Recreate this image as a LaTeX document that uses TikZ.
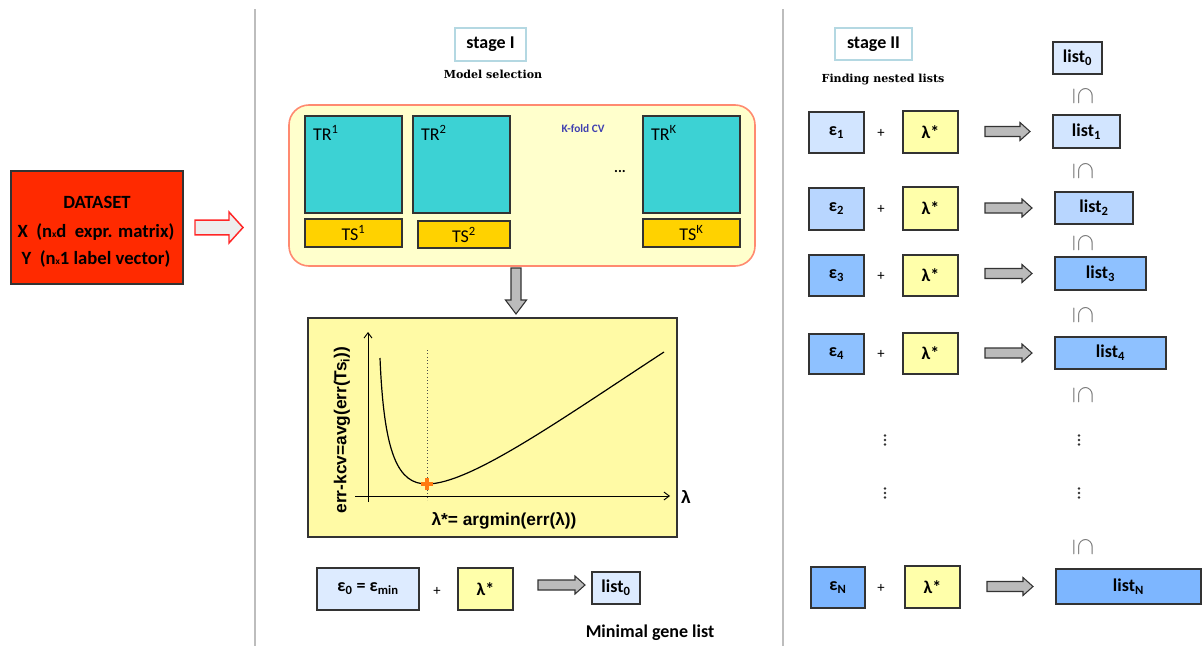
\documentclass[tikz,border=0pt]{standalone}
\usepackage{fontspec}
\newfontfamily\carlito{Carlito}
\newfontfamily\arialfont{Liberation Sans}
\newfontfamily\headserif{DejaVu Serif}
\usetikzlibrary{calc,arrows.meta}

\definecolor{boxline}{HTML}{333333}
\definecolor{datared}{HTML}{FF2A00}
\definecolor{cvfill}{HTML}{FFFFCC}
\definecolor{cvline}{HTML}{FF8A70}
\definecolor{trfill}{HTML}{3CD2D4}
\definecolor{tsfill}{HTML}{FFD200}
\definecolor{plotfill}{HTML}{FFFAA5}
\definecolor{lamfill}{HTML}{FFFFAA}
\definecolor{blueA}{HTML}{DDEBFF}
\definecolor{blueB}{HTML}{D2E5FF}
\definecolor{blueC}{HTML}{B8D6FF}
\definecolor{blueD}{HTML}{8EC1FF}
\definecolor{blueE}{HTML}{7DB6FF}
\definecolor{stageline}{HTML}{B4D8E2}
\definecolor{cvtext}{HTML}{4040B0}
\definecolor{divgray}{HTML}{BDBDBD}
\definecolor{arrgray}{HTML}{BBBBBB}
\definecolor{subgray}{HTML}{6E6E6E}
\definecolor{minorange}{HTML}{FF7A10}

% box given by its corners (x1,y1) (x2,y2) in pixel units
\newcommand\bx[7]{\node[#6, minimum width={(#4-(#2))*0.75pt}, minimum height={(#5-(#3))*0.75pt}] (#1) at ({(#2+#4)/2},{(#3+#5)/2}) {#7};}
% horizontal block arrow: style, start, end, half body, half head, head length
\newcommand\harrow[6]{\draw[#1] let \p1=#2, \p2=#3 in
  (\x1,\y2+#4) -- (\x2-#6,\y2+#4) -- (\x2-#6,\y2+#5) -- (\x2,\y2) --
  (\x2-#6,\y2-#5) -- (\x2-#6,\y2-#4) -- (\x1,\y2-#4) -- cycle;}
% vertical (downward) block arrow
\newcommand\varrow[6]{\draw[#1] let \p1=#2, \p2=#3 in
  (\x1-#4,\y1) -- (\x1-#4,\y2+#6) -- (\x1-#5,\y2+#6) -- (\x1,\y2) --
  (\x1+#5,\y2+#6) -- (\x1+#4,\y2+#6) -- (\x1+#4,\y1) -- cycle;}

\tikzset{
  base/.style={inner sep=0pt, outer sep=0pt},
  box/.style={base, draw=boxline, line width=0.9pt,
    font=\carlito\bfseries\fontsize{13.5}{15}\selectfont},
  epsbox/.style={box, fill=#1},
  lambox/.style={box, fill=lamfill},
  listbox/.style={box, fill=#1},
  trbox/.style={base, draw=boxline, line width=0.9pt, fill=trfill},
  tsbox/.style={base, draw=boxline, line width=0.9pt, fill=tsfill,
    font=\carlito\fontsize{13.5}{15}\selectfont},
  trlabel/.style={base, anchor=base west, font=\carlito\fontsize{13.5}{15}\selectfont},
  stagebox/.style={base, draw=stageline, line width=0.8pt,
    font=\carlito\bfseries\fontsize{13.5}{15}\selectfont},
  subtitle/.style={base, font=\headserif\bfseries\fontsize{8.3}{10}\selectfont},
  plus/.style={base, font=\carlito\fontsize{11}{12}\selectfont},
  subs/.style={base, rotate=-90, scale=1.3, text=subgray, font=\fontsize{14}{15}\selectfont},
  vdot/.style={fill=black!80, draw=none},
  garrow/.style={draw=boxline, line width=0.8pt, fill=arrgray},
  rarrow/.style={draw=red!85!white, line width=1.1pt, fill=black!7},
  divider/.style={draw=divgray, line width=1.2pt},
  axis/.style={draw=black, line width=0.7pt, -{Straight Barb[length=4pt,width=6pt]}},
  plotlabel/.style={base, font=\arialfont\bfseries\fontsize{13}{15}\selectfont},
  datatext/.style={base, font=\carlito\bfseries\fontsize{14}{16}\selectfont},
}

\begin{document}
\begin{tikzpicture}[x=0.75pt, y=-0.75pt]
\useasboundingbox (0,0) rectangle (1203,646);

% ---------- dataset ----------
\bx{dataset}{11}{171}{183}{284}{base, draw=boxline, line width=0.9pt, fill=datared}{}
\node[datatext] (dtitle) at (97,202) {DATASET};
\node[datatext] (dx) at (96,232) {X\ \ (n{\fontsize{7}{8}\selectfont x}d\ \ expr. matrix)};
\node[datatext] (dy) at (96,259) {Y\ \ (n{\fontsize{7}{8}\selectfont x}1 label vector)};
\harrow{rarrow}{($(dataset.east)+(12,0)$)}{($(dataset.east)+(60,0)$)}{5.6pt}{11.6pt}{10.5pt}

% ---------- dividers ----------
\coordinate (d1top) at (255,9);  \coordinate (d1bot) at (255,646);
\coordinate (d2top) at (783,9);  \coordinate (d2bot) at (783,646);
\draw[divider] (d1top) -- (d1bot);
\draw[divider] (d2top) -- (d2bot);

% ---------- stage I ----------
\bx{stage1}{455}{28}{526}{61}{stagebox}{stage I}
\node[subtitle] (modsel) at (493,74) {Model selection};

\bx{cvbox}{289}{105}{755}{266}{base, draw=cvline, line width=1.2pt, fill=cvfill, rounded corners=15pt}{}
\bx{tr1}{305}{116}{402}{213}{trbox}{}
\bx{tr2}{413}{116}{510}{213}{trbox}{}
\bx{trk}{643}{116}{740}{213}{trbox}{}
\node[trlabel] (tr1l) at ($(tr1.north west)+(8,24)$) {TR\textsuperscript{1}};
\node[trlabel] (tr2l) at ($(tr2.north west)+(8,24)$) {TR\textsuperscript{2}};
\node[trlabel] (trkl) at ($(trk.north west)+(8,24)$) {TR\textsuperscript{K}};
\bx{ts1}{305}{219}{402}{247}{tsbox}{TS\textsuperscript{1}}
\bx{ts2}{418}{221}{510}{248}{tsbox}{TS\textsuperscript{2}}
\bx{tsk}{643}{219}{740}{247}{tsbox}{TS\textsuperscript{K}}
\node[base, text=cvtext, font=\carlito\bfseries\fontsize{8.5}{10}\selectfont] (kfold) at (583,129) {K-fold CV};
\node[base, font=\carlito\bfseries\fontsize{11}{12}\selectfont] (cvdots) at (620,172) {...};

% ---------- error curve ----------
\bx{plot}{308}{318}{677}{537}{base, draw=boxline, line width=1pt, fill=plotfill}{}
\varrow{garrow}{($(cvbox.south)+(-6,2)$)}{($(plot.north)+(0,-4)$)}{3.75pt}{7.9pt}{10.5pt}

\draw[axis] (368,502) -- (368,332);
\draw[axis] (355,496) -- (670,496);
\node[plotlabel] (lamaxis) at (686,497) {λ};
\draw[black!70, line width=0.5pt, dotted] (427,350) -- (427,500);
\draw[black, line width=0.9pt] (380,358) .. controls (384,455) and (398,484) .. (427,484)
  .. controls (470,484) and (560,420) .. (664,352);
\draw[minorange, line width=3pt] (421,484) -- (433,484) (427,478) -- (427,490);
\node[plotlabel, rotate=90] (ylab) at (342,430) {err-kcv=avg(err(Ts\textsubscript{i}))};
\node[plotlabel] (xlab) at (504,521) {λ*= argmin(err(λ))};

% ---------- minimal list ----------
\bx{eps0}{317}{568}{419}{610}{epsbox=blueA}{ε\textsubscript{0} = ε\textsubscript{min}}
\node[plus] (plus0) at (437,591) {+};
\bx{lam0}{458}{568}{513}{610}{lambox}{λ*}
\bx{list0b}{592}{572}{640}{604}{listbox=blueA}{list\textsubscript{0}}
\harrow{garrow}{($(lam0.east)+(25,0)$)}{($(list0b.west)+(-7,-3)$)}{3.75pt}{6.75pt}{7.5pt}
\node[base, font=\carlito\bfseries\fontsize{13.5}{15}\selectfont] (minimal) at (650,633) {Minimal gene list};

% ---------- stage II ----------
\bx{stage2}{835}{28}{912}{60}{stagebox}{stage II}
\node[subtitle] (nested) at (883,80) {Finding nested lists};
\bx{list0t}{1053}{42}{1102}{74}{listbox=blueA}{list\textsubscript{0}}

\bx{e1}{809}{112}{864}{153}{epsbox=blueB}{ε\textsubscript{1}}
\bx{l1}{903}{111}{958}{153}{lambox}{λ*}
\bx{list1}{1053}{115}{1120}{148}{listbox=blueB}{list\textsubscript{1}}

\bx{e2}{809}{188}{864}{230}{epsbox=blueC}{ε\textsubscript{2}}
\bx{l2}{903}{187}{958}{230}{lambox}{λ*}
\bx{list2}{1055}{192}{1133}{224}{listbox=blueC}{list\textsubscript{2}}

\bx{e3}{809}{255}{864}{296}{epsbox=blueD}{ε\textsubscript{3}}
\bx{l3}{903}{255}{958}{296}{lambox}{λ*}
\bx{list3}{1055}{257}{1146}{290}{listbox=blueD}{list\textsubscript{3}}

\bx{e4}{809}{334}{864}{374}{epsbox=blueD}{ε\textsubscript{4}}
\bx{l4}{903}{333}{958}{374}{lambox}{λ*}
\bx{list4}{1055}{337}{1166}{369}{listbox=blueD}{list\textsubscript{4}}

\bx{eN}{811}{567}{865}{608}{epsbox=blueE}{ε\textsubscript{N}}
\bx{lN}{905}{566}{960}{608}{lambox}{λ*}
\bx{listN}{1056}{569}{1201}{604}{listbox=blueE}{list\textsubscript{N}}

\foreach \r/\y in {1/133,2/209,3/276,4/354,N/588}{
  \node[plus] (plus\r) at (881,\y) {+};
}
\foreach \r in {1,2,3,4,N}{
  \harrow{garrow}{($(l\r.east)+(27,0)$)}{($(list\r.west)+(-23,0)$)}{3.75pt}{6.75pt}{7.5pt}
}

% nesting marks between the lists
\foreach \i/\y in {a/96,b/171,c/243,d/315,e/395,f/547}{
  \node[subs] (sub\i) at (1083,\y) {$\subseteq$};
}
% vertical ellipses for the omitted rows
\foreach \x in {885,1079}{
  \foreach \y in {440,493}{
    \foreach \d in {-4.5,0,4.5}{
      \fill[vdot] (\x,\y+\d) circle (1pt);
    }
  }
}
\end{tikzpicture}
\end{document}
